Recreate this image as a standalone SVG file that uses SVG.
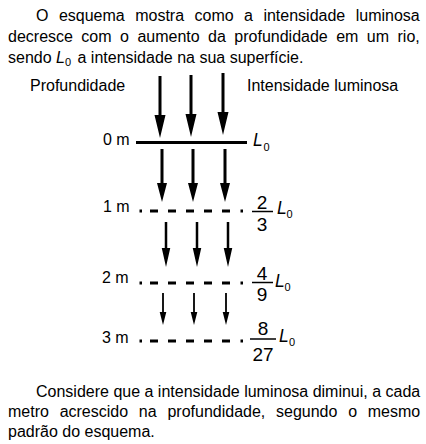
<svg xmlns="http://www.w3.org/2000/svg" xmlns:xlink="http://www.w3.org/1999/xlink" width="426" height="444" viewBox="0 0 426 444">
<style>
text{font-family:"Liberation Sans",Arial,sans-serif;font-size:16px;fill:#000}
.it{font-style:italic;font-size:17.5px}
.sub{font-size:11px}
.fr{font-size:19px}
.solid{stroke:#000;stroke-width:3;fill:none}
.dash{stroke:#000;stroke-width:3;fill:none;stroke-dasharray:2.5 8 8 10 8 10 8 10 8 10 8 10.5 2.5 100}
.bar{stroke:#000;stroke-width:1.5}
.arr{fill:#000}
</style>
<defs>
<path id="a1" d="M-1.5,0 H1.5 V39 H5.5 L0,62 L-5.5,39 H-1.5 Z"/>
<path id="a2" d="M-1.5,0 H1.5 V34 H5 L0,53 L-5,34 H-1.5 Z"/>
<path id="a3" d="M-1.25,0 H1.25 V26 H4.25 L0,45 L-4.25,26 H-1.25 Z"/>
<path id="a4" d="M-0.9,0 H0.9 V19 H3.3 L0,32 L-3.3,19 H-0.9 Z"/>
</defs>
<g id="intro">
<text x="36" y="21" word-spacing="6">O esquema mostra como a intensidade luminosa</text>
<text x="8" y="42" word-spacing="4">decresce com o aumento da profundidade em um rio,</text>
<text x="8" y="62.5">sendo <tspan font-style="italic">L</tspan><tspan class="sub" dy="3" font-size="10">0</tspan><tspan dy="-3" dx="2"> a intensidade na sua superfície.</tspan></text>
</g>
<g id="headers">
<text x="30" y="91">Profundidade</text>
<text x="247" y="91">Intensidade luminosa</text>
</g>
<g id="level-0">
<text x="103" y="144.5">0 m</text>
<line class="solid" x1="136" y1="142.5" x2="247" y2="142.5"/>
<text class="it" x="253" y="146">L</text><text class="sub" x="263.5" y="151">0</text>
</g>
<g id="level-1">
<text x="103" y="211.5">1 m</text>
<line class="dash" x1="139.5" y1="211" x2="243" y2="211"/>
<text class="fr" x="262" y="209" text-anchor="middle">2</text>
<line class="bar" x1="252" y1="211.5" x2="273" y2="211.5"/>
<text class="fr" x="262" y="230.5" text-anchor="middle">3</text>
<text class="it" x="277" y="214">L</text><text class="sub" x="286.5" y="218">0</text>
</g>
<g id="level-2">
<text x="102" y="283">2 m</text>
<line class="dash" x1="139.5" y1="283" x2="243" y2="283"/>
<text class="fr" x="262" y="280" text-anchor="middle">4</text>
<line class="bar" x1="252" y1="282.5" x2="273" y2="282.5"/>
<text class="fr" x="262" y="301" text-anchor="middle">9</text>
<text class="it" x="275" y="287">L</text><text class="sub" x="284.5" y="291">0</text>
</g>
<g id="level-3">
<text x="102" y="343">3 m</text>
<line class="dash" x1="139.5" y1="341" x2="243" y2="341"/>
<text class="fr" x="263" y="335" text-anchor="middle">8</text>
<line class="bar" x1="250" y1="339" x2="276" y2="339"/>
<text class="fr" x="263" y="360.5" text-anchor="middle">27</text>
<text class="it" x="279" y="342">L</text><text class="sub" x="289" y="346">0</text>
</g>
<g id="connectors" class="arr">
<use xlink:href="#a1" x="160" y="76"/>
<use xlink:href="#a1" x="191" y="75"/>
<use xlink:href="#a1" x="223" y="73"/>
<use xlink:href="#a2" x="162" y="149"/>
<use xlink:href="#a2" x="193" y="149"/>
<use xlink:href="#a2" x="225" y="149"/>
<use xlink:href="#a3" x="166" y="222"/>
<use xlink:href="#a3" x="197" y="222"/>
<use xlink:href="#a3" x="228" y="222"/>
<use xlink:href="#a4" x="163" y="293"/>
<use xlink:href="#a4" x="194" y="293"/>
<use xlink:href="#a4" x="226" y="293"/>
</g>
<g id="conclusion">
<text x="36" y="397">Considere que a intensidade luminosa diminui, a cada</text>
<text x="8" y="417" word-spacing="6.3">metro acrescido na profundidade, segundo o mesmo</text>
<text x="8" y="437">padrão do esquema.</text>
</g>
</svg>
